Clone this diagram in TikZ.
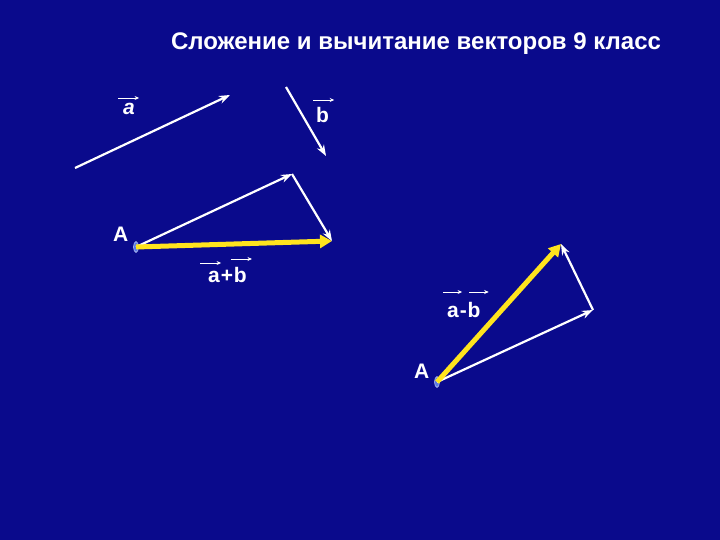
\documentclass[tikz,border=0pt]{standalone}
\usepackage{fontspec}
\setmainfont{Liberation Sans}
\usetikzlibrary{positioning,arrows.meta,shapes.geometric}
\definecolor{slideblue}{RGB}{10,10,140}
\definecolor{sumyellow}{RGB}{255,228,30}
\definecolor{dotblue}{RGB}{90,120,230}

\begin{document}
\begin{tikzpicture}[x=1pt,y=-1pt]
    \tikzstyle{every node}=[text=white,inner sep=0pt,font=\bfseries\fontsize{21}{21}\selectfont]
    \tikzstyle{vec}=[white,line width=2.2pt,-{Stealth[length=11pt,width=8pt]}]
    \tikzstyle{res}=[sumyellow,line width=5pt,-{Triangle[length=12pt,width=13pt]}]
    \tikzstyle{vbar}=[white,line width=0.8pt,-{Stealth[length=4.5pt,width=4pt]}]
    \tikzstyle{dot}=[ellipse,draw=white!70!dotblue,fill=dotblue,line width=0.5pt,minimum width=5pt,minimum height=11pt]
    \useasboundingbox (0,0) rectangle (720,540);
    \fill[slideblue] (0,0) rectangle (720,540);
    \draw (416,50) node[anchor=base,font=\bfseries\fontsize{24}{24}\selectfont] (title) {Сложение и вычитание векторов 9 класс};
    % free vectors a and b
    \coordinate (a0) at (75,168);
    \coordinate (a1) at (230,95);
    \coordinate (b0) at (286,87);
    \coordinate (b1) at (326,156);
    \draw[vec] (a0) -- (a1);
    \draw[vec] (b0) -- (b1);
    \draw (123,115) node[anchor=base west] (la) {\itshape a};
    \draw (316,123) node[anchor=base west] (lb) {b};
    \draw[vbar] ([xshift=-5pt,yshift=17pt]la.base west) -- ([xshift=4pt,yshift=17pt]la.base east);
    \draw[vbar] ([xshift=-3pt,yshift=23pt]lb.base west) -- ([xshift=5pt,yshift=23pt]lb.base east);
    % sum
    \draw (136,247) node[dot] (A1) {};
    \coordinate (P1) at (292,174);
    \coordinate (S1) at (332,241);
    \draw[vec] (A1.center) -- (P1);
    \draw[vec] (P1) -- (S1);
    \draw[res] (A1.center) -- (S1);
    \draw (113,241) node[anchor=base west] (nA1) {A};
    \draw (208,282) node[anchor=base west] (s1) {a};
    \draw node[base right=0.5pt of s1] (s2) {+};
    \draw node[base right=0.5pt of s2] (s3) {b};
    \draw[vbar] ([xshift=-8pt,yshift=19pt]s1.base west) -- ([xshift=1pt,yshift=19pt]s1.base east);
    \draw[vbar] ([xshift=-3pt,yshift=23pt]s3.base west) -- ([xshift=5pt,yshift=23pt]s3.base east);
    % difference
    \draw (437,382) node[dot] (A2) {};
    \coordinate (P2) at (593,310);
    \coordinate (D2) at (561,244);
    \draw[vec] (A2.center) -- (P2);
    \draw[vec] (P2) -- (D2);
    \draw[res] (A2.center) -- (D2);
    \draw (414,378) node[anchor=base west] (nA2) {A};
    \draw (447,317) node[anchor=base west] (d1) {a};
    \draw node[base right=0.5pt of d1] (d2) {-};
    \draw node[base right=0.5pt of d2] (d3) {b};
    \draw[vbar] ([xshift=-4pt,yshift=25pt]d1.base west) -- ([xshift=3pt,yshift=25pt]d1.base east);
    \draw[vbar] ([xshift=2pt,yshift=25pt]d3.base west) -- ([xshift=8pt,yshift=25pt]d3.base east);
\end{tikzpicture}
\end{document}
